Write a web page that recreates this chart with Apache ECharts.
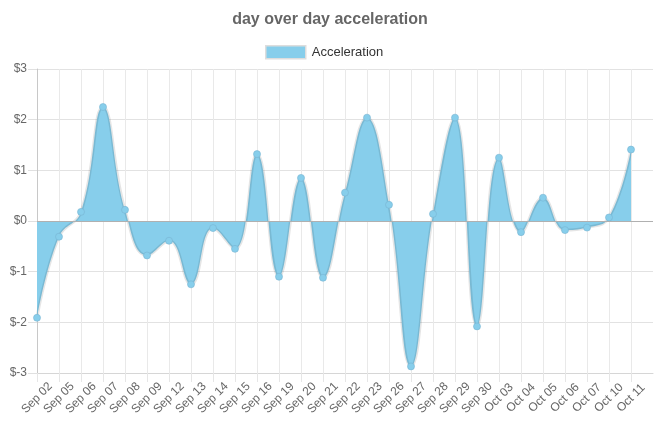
<!DOCTYPE html>
<html>
<head>
<meta charset="utf-8">
<script src="https://cdn.jsdelivr.net/npm/echarts@6/dist/echarts.min.js"></script>
<style>html,body{margin:0;padding:0;background:#fff}#c{width:660px;height:431px}</style>
</head>
<body>
<div id="c"></div>
<script>
var categories = ['Sep 02','Sep 05','Sep 06','Sep 07','Sep 08','Sep 09','Sep 12','Sep 13','Sep 14','Sep 15','Sep 16','Sep 19','Sep 20','Sep 21','Sep 22','Sep 23','Sep 26','Sep 27','Sep 28','Sep 29','Sep 30','Oct 03','Oct 04','Oct 05','Oct 06','Oct 07','Oct 10','Oct 11'];
var acceleration = [-1.91,-0.31,0.18,2.25,0.22,-0.68,-0.39,-1.25,-0.14,-0.55,1.32,-1.10,0.85,-1.12,0.56,2.04,0.32,-2.87,0.14,2.04,-2.08,1.25,-0.22,0.46,-0.18,-0.13,0.07,1.41];
var yTicks = [-3,-2,-1,0,1,2,3];

var cats = categories.concat(['']);
var chart = echarts.init(document.getElementById('c'), null, {renderer:'canvas'});
chart.setOption({
  animation: false,
  title: {
    text: 'day over day acceleration',
    left: 'center', top: 7,
    textStyle: {fontFamily: 'Liberation Sans, Arial, sans-serif', fontSize: 16, fontWeight: 'bold', color: '#666'}
  },
  legend: {
    top: 40, left: 260,
    icon: 'rect', itemWidth: 40, itemHeight: 13, itemGap: 10,
    textStyle: {fontFamily: 'Liberation Sans, Arial, sans-serif', fontSize: 13, color: '#333', padding: [0,0,0,1]},
    itemStyle: {color: '#87CEEB', borderColor: '#dddddd', borderWidth: 1.5},
    data: ['Acceleration']
  },
  grid: {left: 37, right: 7, top: 69, bottom: 58, containLabel: false},
  xAxis: {
    type: 'category', data: cats, boundaryGap: false,
    axisLine: {onZero: false, lineStyle: {color: '#d6d6d6'}},
    axisTick: {show: true, length: 9, lineStyle: {color: '#e6e6e6'}, interval: function(i){return i < 28;}},
    axisLabel: {rotate: 45, interval: 0, align: 'center', verticalAlign: 'middle', fontSize: 12, color: '#666', fontFamily: 'Liberation Sans, Arial, sans-serif', margin: 25},
    splitLine: {show: true, interval: function(i){return i < 28;}, lineStyle: {color: '#e9e9e9'}}
  },
  yAxis: {
    type: 'value', min: yTicks[0], max: yTicks[yTicks.length-1], interval: 1,
    axisLine: {show: true, lineStyle: {color: '#c8c8c8'}},
    axisTick: {show: true, length: 9, lineStyle: {color: '#e0e0e0'}},
    axisLabel: {formatter: function(v){return '$' + v;}, fontSize: 12, color: '#666', fontFamily: 'Liberation Sans, Arial, sans-serif', margin: 10},
    splitLine: {lineStyle: {color: '#e2e2e2'}}
  },
  series: [{
    name: 'Acceleration', type: 'line', data: acceleration,
    smooth: 0.45,
    symbol: 'circle', symbolSize: 7,
    itemStyle: {color: '#87CEEB', borderColor: 'rgba(120,180,210,0.6)', borderWidth: 1},
    lineStyle: {color: 'rgba(0,0,0,0.1)', width: 3},
    areaStyle: {color: '#87CEEB', opacity: 1, origin: 0},
    markLine: {
      silent: true, symbol: 'none', label: {show: false},
      lineStyle: {color: '#b0b0b0', type: 'solid', width: 1},
      data: [{yAxis: 0}]
    },
    z: 3
  }]
});
</script>
</body>
</html>
